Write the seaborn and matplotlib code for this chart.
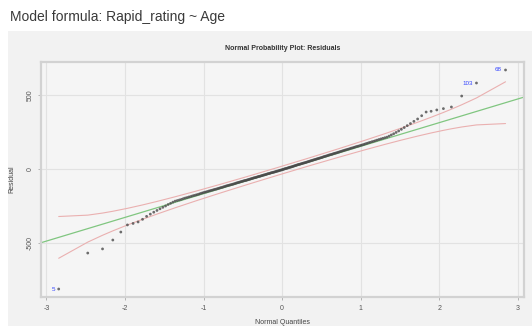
import numpy as np
import pandas as pd
import matplotlib
matplotlib.use("Agg")
import matplotlib.pyplot as plt
import seaborn as sns
from statistics import NormalDist

# ---- data (sorted residuals) ----
residuals = [
    -811, -568, -540, -480, -426, -378, -368, -358, -340, -320,
    -305, -292, -280, -269, -259, -250, -240, -232, -224, -217,
    -213, -209, -205, -200, -196, -193, -189, -186, -182, -179,
    -176, -173, -170, -166, -163, -160, -157, -155, -152, -149,
    -147, -144, -142, -139, -137, -135, -132, -130, -127, -125,
    -123, -120, -118, -115, -113, -111, -109, -107, -105, -103,
    -101, -99, -96, -94, -92, -90, -88, -86, -84, -82,
    -80, -78, -77, -75, -73, -71, -69, -67, -65, -63,
    -61, -59, -58, -56, -54, -52, -50, -49, -47, -45,
    -43, -41, -40, -38, -36, -34, -32, -31, -29, -27,
    -25, -24, -22, -21, -19, -17, -15, -14, -12, -10,
    -8, -7, -5, -3, -1, 1, 3, 4, 6, 8,
    10, 12, 13, 15, 17, 19, 21, 23, 25, 27,
    29, 31, 32, 34, 36, 38, 40, 41, 43, 45,
    47, 49, 51, 53, 55, 57, 59, 61, 63, 65,
    67, 69, 71, 73, 75, 77, 79, 82, 84, 86,
    88, 90, 93, 95, 97, 99, 101, 104, 106, 108,
    110, 113, 115, 118, 120, 123, 125, 128, 130, 133,
    135, 138, 141, 143, 146, 149, 152, 154, 157, 160,
    163, 166, 170, 173, 177, 180, 184, 187, 191, 195,
    199, 203, 207, 211, 215, 222, 230, 238, 247,
    257, 268, 280, 293, 307, 322, 338, 360, 385, 390,
    399, 408, 419, 493, 581, 669,
]
outlier_ranks = [1, 224, 225]          # 1-based rank in sorted residuals
outlier_labels = ["5", "103", "68"]
ref_intercept = -7
ref_slope = 160
x_ticks = [-3, -2, -1, 0, 1, 2, 3]
y_ticks = [-500, 0, 500]

title_text = "Model formula: Rapid_rating ~ Age"
panel_title = "Normal Probability Plot: Residuals"
x_label = "Normal Quantiles"
y_label = "Residual"

# ---- computations ----
n = len(residuals)
nd = NormalDist()
r = np.sort(np.array(residuals, dtype=float))
q = np.array([nd.inv_cdf((i - 0.5) / n) for i in range(1, n + 1)])
dens = np.array([nd.pdf(z) for z in q])
P = np.array([nd.cdf(z) for z in q])
se = ref_slope / dens * np.sqrt(P * (1 - P) / n)
fit = ref_intercept + ref_slope * q
df = pd.DataFrame({"q": q, "r": r, "upper": fit + 1.96 * se, "lower": fit - 1.96 * se})

# ---- style ----
sns.set_theme(style="white")
plt.rcParams["font.family"] = ["Liberation Sans", "DejaVu Sans"]

fig = plt.figure(figsize=(5.32, 3.26), dpi=100, facecolor="white")
bg = fig.add_axes([8 / 532, 0, 1 - 8 / 532, 1 - 31 / 326], zorder=-5)
bg.set_facecolor("#f2f2f2")
bg.set_xticks([]); bg.set_yticks([])
for s in bg.spines.values():
    s.set_visible(False)

ax = fig.add_axes([41 / 532, 1 - 297 / 326, (524 - 41) / 532, (297 - 62) / 326], zorder=1)
ax.set_facecolor("#f5f5f5")

xlim = (-3.07, 3.08)
ylim = (-865, 723)

# grid
for xt in x_ticks:
    ax.axvline(xt, color="#e2e2e2", lw=0.8, zorder=0)
for yt in y_ticks:
    ax.axhline(yt, color="#e2e2e2", lw=0.8, zorder=0)

# reference line
ax.plot(list(xlim), [ref_intercept + ref_slope * xlim[0], ref_intercept + ref_slope * xlim[1]],
        color="#80c680", lw=0.9, zorder=2)
# confidence band
sns.lineplot(data=df, x="q", y="upper", ax=ax, color="#eab0b0", lw=0.8, sort=False, zorder=2)
sns.lineplot(data=df, x="q", y="lower", ax=ax, color="#eab0b0", lw=0.8, sort=False, zorder=2)
# points
sns.scatterplot(data=df, x="q", y="r", ax=ax, s=4, color="#4a4a4a", edgecolor="none",
                alpha=0.8, zorder=3, legend=False)

# outlier labels
for rank, lab in zip(outlier_ranks, outlier_labels):
    ax.annotate(lab, (q[rank - 1], r[rank - 1]), xytext=(-2.5, 0), textcoords="offset points",
                ha="right", va="center", fontsize=4.5, color="#3344ff", zorder=4)

ax.set_xlim(*xlim)
ax.set_ylim(*ylim)
ax.set_xticks(x_ticks)
ax.set_xticklabels([str(v) for v in x_ticks])
ax.set_yticks(y_ticks)
ax.set_yticklabels([str(v) for v in y_ticks])
ax.tick_params(axis="both", which="both", length=2.5, width=0.6, color="#aaaaaa",
               labelsize=5, labelcolor="#555555", pad=3, direction="out",
               bottom=True, left=True)
ax.tick_params(axis="y", labelrotation=90)
for lab in ax.get_yticklabels():
    lab.set_va("center")

for s in ax.spines.values():
    s.set_color("#d2d2d2")
    s.set_linewidth(1.6)

ax.set_xlabel(x_label, fontsize=5, color="#444444", labelpad=5)
ax.set_ylabel(y_label, fontsize=5, color="#444444", labelpad=8)
ax.set_title(panel_title, fontsize=5, fontweight="bold", color="#333333", pad=9)

fig.text(10 / 532, 1 - 17 / 326, title_text, fontsize=10, color="#3a3a3a",
         ha="left", va="center")

fig.savefig("out.png", dpi=100, facecolor=fig.get_facecolor())
